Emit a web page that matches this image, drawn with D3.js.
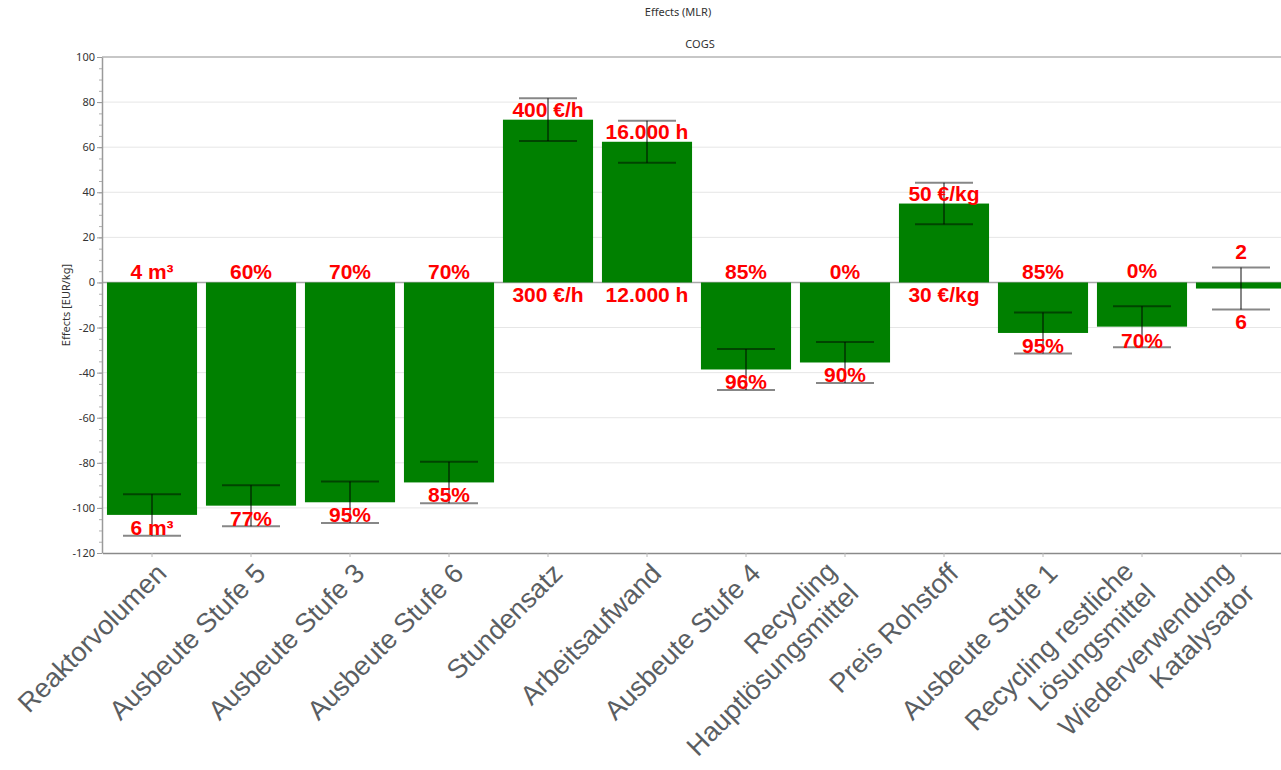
<!DOCTYPE html>
<html>
<head>
<meta charset="utf-8">
<script src="https://cdn.jsdelivr.net/npm/d3@7"></script>
<style>
  html, body { margin: 0; padding: 0; background: #fff; }
  svg { display: block; }
</style>
</head>
<body>
<svg id="chart" width="1281" height="770"></svg>
<script>
// ---- data ----
const categories = [
  "Reaktorvolumen", "Ausbeute Stufe 5", "Ausbeute Stufe 3", "Ausbeute Stufe 6",
  "Stundensatz", "Arbeitsaufwand", "Ausbeute Stufe 4", "Recycling\nHauptlösungsmittel",
  "Preis Rohstoff", "Ausbeute Stufe 1", "Recycling restliche\nLösungsmittel", "Wiederverwendung\nKatalysator"
];
const effects = [-103.1, -99.0, -97.5, -88.7, 72.2, 62.4, -38.6, -35.5, 35.0, -22.4, -19.6, -2.7];
const errors  = [9.2, 9.1, 9.2, 9.2, 9.5, 9.3, 9.1, 9.1, 9.2, 9.1, 9.1, 9.3];
const highLabels = ["4 m³", "60%", "70%", "70%", "400 €/h", "16.000 h", "85%", "0%", "50 €/kg", "85%", "0%", "2"];
const lowLabels  = ["6 m³", "77%", "95%", "85%", "300 €/h", "12.000 h", "96%", "90%", "30 €/kg", "95%", "70%", "6"];
const yTicks = [-120, -100, -80, -60, -40, -20, 0, 20, 40, 60, 80, 100];
const title = "Effects (MLR)";
const subtitle = "COGS";
const yTitle = "Effects [EUR/kg]";

// ---- layout ----
const svg = d3.select("#chart");
const plotLeft = 102, plotRight = 1281, plotTop = 57, plotBottom = 553;

const x = d3.scaleBand().domain(categories).range([102.5, 1290.5])
  .paddingInner(0.09).paddingOuter(0.045);
const y = d3.scaleLinear().domain([-120, 100]).range([plotBottom, plotTop]);

// titles
svg.append("text").attr("x", 678).attr("y", 16).attr("text-anchor", "middle")
  .attr("font-family", "Noto Sans, DejaVu Sans, sans-serif").attr("font-size", 11).attr("fill", "#333")
  .text(title);
svg.append("text").attr("x", 700).attr("y", 48).attr("text-anchor", "middle")
  .attr("font-family", "Noto Sans, DejaVu Sans, sans-serif").attr("font-size", 11).attr("fill", "#333")
  .text(subtitle);

// grid
svg.append("g").selectAll("line").data(yTicks.filter(t => t !== 0 && t !== 100 && t !== -120))
  .join("line")
  .attr("x1", plotLeft).attr("x2", plotRight)
  .attr("y1", d => y(d)).attr("y2", d => y(d))
  .attr("stroke", "#e6e6e6").attr("stroke-width", 1);

// top border
svg.append("line").attr("x1", plotLeft).attr("x2", plotRight)
  .attr("y1", y(100)).attr("y2", y(100)).attr("stroke", "#b4b4b4").attr("stroke-width", 1.5);

// zero line
svg.append("line").attr("x1", plotLeft).attr("x2", plotRight)
  .attr("y1", y(0)).attr("y2", y(0)).attr("stroke", "#a8a8a8").attr("stroke-width", 1.5);

// minor y ticks
const minorAxis = d3.axisLeft(y).tickValues(d3.range(-120, 101, 5)).tickSize(3).tickFormat("");
const gMinor = svg.append("g").attr("transform", `translate(${plotLeft},0)`).call(minorAxis);
gMinor.select(".domain").remove();
gMinor.selectAll("line").attr("stroke", "#b0b0b0");

// y axis
const yAxis = d3.axisLeft(y).tickValues(yTicks).tickSize(5).tickPadding(2).tickSizeOuter(0)
  .tickFormat(d => String(d));
const gy = svg.append("g").attr("transform", `translate(${plotLeft},0)`).call(yAxis);
gy.select(".domain").attr("stroke", "#9a9a9a").attr("stroke-width", 1.5);
gy.selectAll(".tick line").attr("stroke", "#9a9a9a");
gy.selectAll("text").attr("font-family", "Noto Sans, DejaVu Sans, sans-serif")
  .attr("font-size", 11).attr("fill", "#333");

// y title
svg.append("text").attr("transform", "translate(70,305) rotate(-90)")
  .attr("text-anchor", "middle")
  .attr("font-family", "Noto Sans, DejaVu Sans, sans-serif").attr("font-size", 11).attr("fill", "#333")
  .text(yTitle);

// x axis
const xAxis = d3.axisBottom(x).tickSize(4).tickFormat("").tickSizeOuter(0);
const gx = svg.append("g").attr("transform", `translate(0,${plotBottom})`).call(xAxis);
gx.select(".domain").attr("stroke", "#8a8a8a").attr("stroke-width", 1.5);
gx.selectAll(".tick line").attr("stroke", "#b8b8b8");

// bars
const data = categories.map((c, i) => ({
  c, v: effects[i], e: errors[i], hi: highLabels[i], lo: lowLabels[i]
}));
svg.append("g").selectAll("rect").data(data).join("rect")
  .attr("x", d => x(d.c))
  .attr("width", x.bandwidth())
  .attr("y", d => y(Math.max(0, d.v)))
  .attr("height", d => Math.abs(y(d.v) - y(0)))
  .attr("fill", "#008000");

// error bars
const eb = svg.append("g").attr("stroke", "rgba(0,0,0,0.47)").attr("stroke-width", 2);
const capHalf = 29;
data.forEach(d => {
  const cx = x(d.c) + x.bandwidth() / 2;
  eb.append("line").attr("x1", cx).attr("x2", cx).attr("y1", y(d.v + d.e)).attr("y2", y(d.v - d.e));
  eb.append("line").attr("x1", cx - capHalf).attr("x2", cx + capHalf).attr("y1", y(d.v + d.e)).attr("y2", y(d.v + d.e));
  eb.append("line").attr("x1", cx - capHalf).attr("x2", cx + capHalf).attr("y1", y(d.v - d.e)).attr("y2", y(d.v - d.e));
});

// value labels
const lg = svg.append("g").attr("font-family", "Liberation Sans, Arial, sans-serif")
  .attr("font-weight", "bold").attr("font-size", 21).attr("fill", "#ff0000").attr("text-anchor", "middle");
const minGap = 70;
data.forEach(d => {
  const cx = x(d.c) + x.bandwidth() / 2;
  let top = y(Math.max(0, d.v)) - 3;
  let bot = y(Math.min(0, d.v)) + 20;
  if (bot - top < minGap) {
    const mid = (top + bot) / 2;
    top = mid - minGap / 2; bot = mid + minGap / 2;
  }
  lg.append("text").attr("x", cx).attr("y", top).text(d.hi);
  lg.append("text").attr("x", cx).attr("y", bot).text(d.lo);
});

// category labels
const cg = svg.append("g").attr("font-family", "Liberation Sans, Arial, sans-serif")
  .attr("font-size", 27).attr("fill", "#5a5e62").attr("text-anchor", "end");
data.forEach(d => {
  const cx = x(d.c) + x.bandwidth() / 2;
  const lines = d.c.split("\n");
  const n = lines.length;
  const t = cg.append("text").attr("transform", `translate(${cx + 16},${plotBottom + 22}) rotate(-45)`);
  lines.forEach((ln, j) => {
    t.append("tspan").attr("x", (-(n - 1) * 0.55) + "em")
      .attr("dy", j === 0 ? (-(n - 1) * 0.65) + "em" : "1.15em")
      .text(ln);
  });
});
</script>
</body>
</html>
